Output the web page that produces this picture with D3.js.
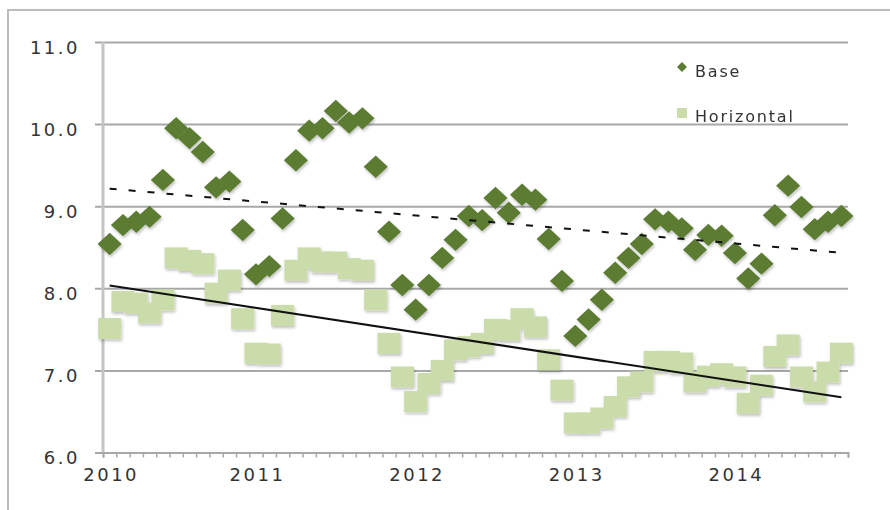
<!DOCTYPE html>
<html>
<head>
<meta charset="utf-8">
<script src="https://cdn.jsdelivr.net/npm/d3@7/dist/d3.min.js"></script>
<style>
	body { margin: 0; background: #fff; }
	svg { display: block; }
	text { font-family: "DejaVu Sans", Verdana, sans-serif; fill: #333; }
</style>
</head>
<body>
<script>
// monthly values, Jan 2010 onwards
var baseValues = [
	8.54, 8.77, 8.81, 8.87, 9.32, 9.95, 9.83, 9.66, 9.23, 9.30,
	8.71, 8.17, 8.27, 8.85, 9.56, 9.92, 9.95, 10.16, 10.02, 10.07,
	9.48, 8.69, 8.04, 7.74, 8.04, 8.37, 8.59, 8.88, 8.83, 9.10,
	8.92, 9.14, 9.08, 8.60, 8.09, 7.42, 7.62, 7.86, 8.19, 8.37,
	8.54, 8.84, 8.81, 8.73, 8.47, 8.65, 8.64, 8.43, 8.12, 8.30,
	8.89, 9.25, 8.99, 8.72, 8.81, 8.88
];
var horizontalValues = [
	7.51, 7.84, 7.82, 7.70, 7.86, 8.37, 8.34, 8.30, 7.94, 8.10,
	7.63, 7.21, 7.20, 7.67, 8.22, 8.37, 8.32, 8.32, 8.24, 8.22,
	7.86, 7.33, 6.92, 6.62, 6.84, 7.00, 7.25, 7.29, 7.33, 7.50,
	7.49, 7.63, 7.53, 7.13, 6.76, 6.36, 6.36, 6.42, 6.56, 6.80,
	6.86, 7.11, 7.11, 7.09, 6.86, 6.93, 6.96, 6.92, 6.60, 6.82,
	7.17, 7.31, 6.92, 6.74, 6.98, 7.21
];
var yearLabels = ['2010', '2011', '2012', '2013', '2014'];
var yearLabelIndex = [0, 11, 23, 35, 47];
var yTickValues = [6, 7, 8, 9, 10, 11];
var seriesNames = ['Base', 'Horizontal'];

var width = 890;
var height = 510;
var plot = { left: 103, right: 848, top: 42, bottom: 452.5 };
var colors = { base: '#5b7b33', horizontal: '#cadcaa', grid: '#a8a8a8' };

var x = d3.scaleLinear()
	.domain([-0.5, baseValues.length - 0.5])
	.range([plot.left, plot.right]);
var y = d3.scaleLinear()
	.domain([6, 11])
	.range([plot.bottom, plot.top]);

var svg = d3.select('body').append('svg')
	.attr('width', width)
	.attr('height', height);

var defs = svg.append('defs');
defs.append('filter')
	.attr('id', 'shadow')
	.attr('x', '-30%').attr('y', '-30%')
	.attr('width', '160%').attr('height', '160%')
	.append('feDropShadow')
	.attr('dx', 1).attr('dy', 2)
	.attr('stdDeviation', 1.4)
	.attr('flood-color', '#000')
	.attr('flood-opacity', 0.25);

// chart frame
svg.append('path')
	.attr('d', 'M8,' + height + 'V10H' + width)
	.attr('fill', 'none')
	.attr('stroke', '#bcbcbc')
	.attr('stroke-width', 2);

// y gridlines + labels
var yAxis = svg.append('g')
	.attr('transform', 'translate(' + plot.left + ',0)')
	.call(d3.axisLeft(y)
		.tickValues(yTickValues)
		.tickFormat(d3.format('.1f'))
		.tickSize(8)
		.tickPadding(15));
yAxis.select('.domain').remove();
yAxis.selectAll('.tick line')
	.attr('x1', plot.right - plot.left)
	.attr('x2', -8)
	.attr('stroke', colors.grid)
	.attr('stroke-width', 2);
yAxis.selectAll('.tick text')
	.attr('dy', 11)
	.style('font-size', '18px')
	.style('letter-spacing', '2.5px');

svg.append('line')
	.attr('x1', plot.left).attr('x2', plot.left)
	.attr('y1', plot.top).attr('y2', plot.bottom)
	.attr('stroke', '#c4c4c4')
	.attr('stroke-width', 3);

// x axis: monthly ticks, yearly labels
var monthTicks = d3.range(baseValues.length + 1).map(function(i) { return i - 0.5; });
var xTicks = svg.append('g')
	.attr('transform', 'translate(0,' + plot.bottom + ')')
	.call(d3.axisBottom(x)
		.tickValues(monthTicks)
		.tickFormat('')
		.tickSizeOuter(0)
		.tickSize(5));
xTicks.select('.domain').attr('stroke', colors.grid).attr('stroke-width', 2);
xTicks.selectAll('.tick line').attr('stroke', colors.grid).attr('stroke-width', 1.5);

var xLabels = svg.append('g')
	.attr('transform', 'translate(0,' + plot.bottom + ')')
	.call(d3.axisBottom(x)
		.tickValues(yearLabelIndex)
		.tickFormat(function(d, i) { return yearLabels[i]; })
		.tickSize(0)
		.tickPadding(28));
xLabels.select('.domain').remove();
xLabels.selectAll('.tick text')
	.attr('dy', 0)
	.attr('dx', 1)
	.style('font-size', '18px')
	.style('letter-spacing', '2.5px');

// markers
var diamond = d3.symbol().type(d3.symbolSquare).size(250);

svg.append('g')
	.attr('filter', 'url(#shadow)')
	.selectAll('path')
	.data(baseValues)
	.join('path')
	.attr('d', diamond)
	.attr('transform', function(d, i) {
		return 'translate(' + x(i) + ',' + y(d) + ') scale(1.08,1) rotate(45)';
	})
	.attr('fill', colors.base);

svg.append('g')
	.attr('filter', 'url(#shadow)')
	.selectAll('rect')
	.data(horizontalValues)
	.join('rect')
	.attr('x', function(d, i) { return x(i) - 11.5; })
	.attr('y', function(d) { return y(d) - 10.5; })
	.attr('width', 23)
	.attr('height', 21)
	.attr('fill', colors.horizontal);

// linear trendlines (least squares)
function trend(values) {
	var xs = d3.range(values.length);
	var mx = d3.mean(xs);
	var my = d3.mean(values);
	var sxy = d3.sum(xs, function(v, i) { return (v - mx) * (values[i] - my); });
	var sxx = d3.sum(xs, function(v) { return (v - mx) * (v - mx); });
	var slope = sxy / sxx;
	return [0, values.length - 1].map(function(i) {
		return [i, my + slope * (i - mx)];
	});
}

var line = d3.line()
	.x(function(d) { return x(d[0]); })
	.y(function(d) { return y(d[1]); });

svg.append('path')
	.attr('d', line(trend(baseValues)))
	.attr('fill', 'none')
	.attr('stroke', '#111')
	.attr('stroke-width', 2)
	.attr('stroke-dasharray', '7,12');

svg.append('path')
	.attr('d', line(trend(horizontalValues)))
	.attr('fill', 'none')
	.attr('stroke', '#111')
	.attr('stroke-width', 2);

// legend
var legend = svg.append('g').attr('transform', 'translate(682,0)');

legend.append('path')
	.attr('d', d3.symbol().type(d3.symbolSquare).size(50))
	.attr('transform', 'translate(0,67) rotate(45)')
	.attr('fill', colors.base);
legend.append('rect')
	.attr('x', -5).attr('y', 108)
	.attr('width', 10).attr('height', 10)
	.attr('fill', colors.horizontal);

legend.selectAll('text')
	.data(seriesNames)
	.join('text')
	.attr('x', 13)
	.attr('y', function(d, i) { return i === 0 ? 77 : 121.5; })
	.style('font-size', '16px')
	.style('letter-spacing', '1.8px')
	.text(function(d) { return d; });
</script>
</body>
</html>
